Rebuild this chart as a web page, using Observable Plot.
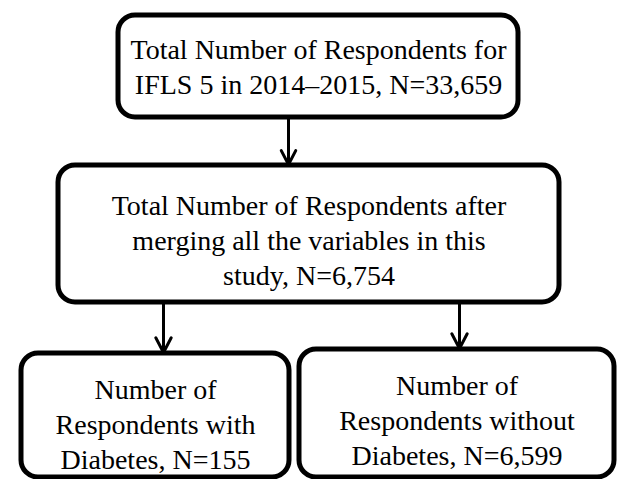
<!DOCTYPE html>
<html>
<head>
<meta charset="utf-8">
<script src="https://cdn.jsdelivr.net/npm/d3@7"></script>
<script src="https://cdn.jsdelivr.net/npm/@observablehq/plot@0.6"></script>
<style>
  html, body { margin: 0; padding: 0; background: #fff; }
  #chart svg { display: block; }
  #chart svg text { font-family: "Liberation Serif", Tinos, "Times New Roman", Times, "DejaVu Serif", "Noto Serif", serif !important; }
</style>
</head>
<body>
<div id="chart"></div>
<script>
// Flowchart content
const stages = ["IFLS 5 total", "After merging", "With diabetes", "Without diabetes"];
const counts = [33659, 6754, 155, 6599];
const labelTemplates = [
  "Total Number of Respondents for\nIFLS 5 in 2014–2015, N={n}",
  "Total Number of Respondents after\nmerging all the variables in this\nstudy, N={n}",
  "Number of\nRespondents with\nDiabetes, N={n}",
  "Number of\nRespondents without\nDiabetes, N={n}"
];
// Flow links between stages (from index -> to index)
const linkFrom = [0, 1, 1];
const linkTo = [1, 2, 3];

// Layout grid (diagram coordinate space, 618 x 479 units)
const boxX1 = [118, 58, 21, 299];
const boxX2 = [518, 559, 289, 614];
const boxY1 = [15, 165, 353, 349];
const boxY2 = [117, 302, 477, 477];
const textY = [65, 238, 422, 418];
const linkX = [288, 163, 459];
const linkY1 = [117, 302, 298];
const linkY2 = [164, 352, 348];

const fmt = d3.format(",");
const boxes = stages.map((s, i) => ({
  stage: s,
  label: labelTemplates[i].replace("{n}", fmt(counts[i])),
  x1: boxX1[i], x2: boxX2[i], y1: boxY1[i], y2: boxY2[i],
  xc: (boxX1[i] + boxX2[i]) / 2, ty: textY[i]
}));
const links = linkFrom.map((f, i) => ({
  from: stages[f], to: stages[linkTo[i]],
  x: linkX[i], y1: linkY1[i], y2: linkY2[i]
}));

const chart = Plot.plot({
  width: 618,
  height: 479,
  margin: 0,
  x: {domain: [0, 618], range: [0, 618], axis: null},
  y: {domain: [0, 479], range: [0, 479], axis: null},
  style: {background: "#fff"},
  marks: [
    Plot.arrow(links, {
      x1: "x", x2: "x", y1: "y1", y2: "y2",
      stroke: "#000", strokeWidth: 3, headLength: 14, headAngle: 55, bend: 0
    }),
    Plot.rect(boxes, {
      x1: "x1", x2: "x2", y1: "y1", y2: "y2",
      fill: "#fff", stroke: "#000", strokeWidth: 5, rx: 17, ry: 17
    }),
    Plot.text(boxes, {
      x: "xc", y: "ty", text: "label",
      fontFamily: "serif",
      fontSize: 28, lineHeight: 1.26, fill: "#000",
      textAnchor: "middle", lineAnchor: "middle"
    })
  ]
});
document.getElementById("chart").appendChild(chart);
</script>
</body>
</html>
